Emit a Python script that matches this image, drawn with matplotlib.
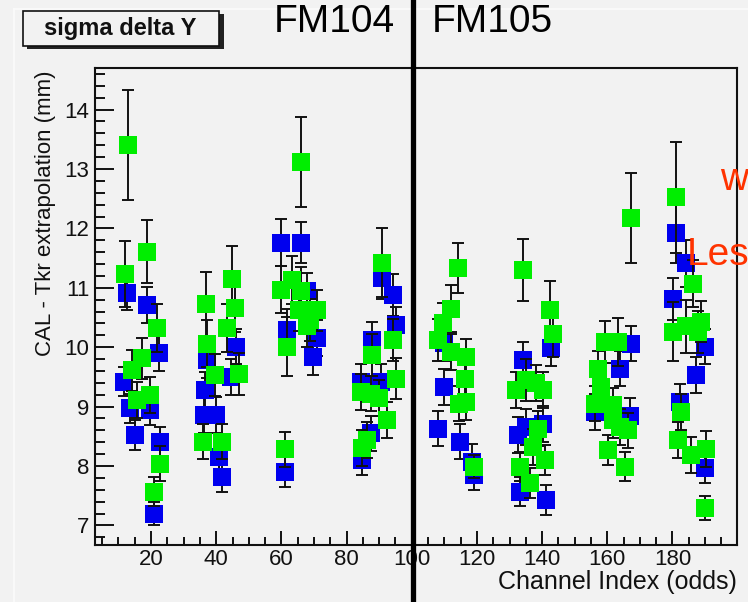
import matplotlib
matplotlib.use("Agg")
import matplotlib.pyplot as plt
from matplotlib.patches import Rectangle
from matplotlib.lines import Line2D
from matplotlib.ticker import MultipleLocator, FixedLocator

plt.rcParams["font.family"] = ["Liberation Sans", "DejaVu Sans"]

BG = "#f2f2f2"
BLUE = "#0000ee"
GREEN = "#00ee00"

# sigma of CAL - Tkr delta Y per channel, FM104 (x < 100) and FM105 (x > 100)
blue_x = [12.6, 18.8, 22.3, 11.6, 13.6, 19.8, 15.0, 22.8, 20.8,
          37.3, 36.7, 36.2, 39.8, 40.8, 41.8, 46.1, 44.4,
          60.0, 65.9, 61.8, 71.0, 69.8, 67.9, 61.0,
          91.0, 94.1, 95.1, 87.9, 84.3, 90.5, 84.8, 87.4,
          110.0, 110.0, 108.0, 114.9, 118.5, 119.0,
          142.8, 134.1, 132.6, 135.2, 140.3, 133.1, 141.3,
          167.4, 163.8, 156.1, 167.0,
          181.2, 184.3, 180.1, 189.9, 187.3, 182.2, 189.9]
blue_y = [10.92, 10.71, 9.90, 9.42, 8.97, 8.94, 8.52, 8.41, 7.20,
          9.78, 9.28, 8.86, 8.86, 8.15, 7.82, 10.01, 9.50,
          11.76, 11.76, 10.29, 10.15, 9.84, 10.95, 7.90,
          11.16, 10.88, 10.37, 10.12, 9.42, 9.42, 8.10, 8.55,
          10.07, 9.33, 8.63, 8.41, 8.07, 7.85,
          9.98, 9.78, 8.52, 8.66, 8.71, 7.57, 7.43,
          10.06, 9.64, 8.91, 8.85,
          11.92, 11.41, 10.81, 10.01, 9.53, 9.08, 7.96]
blue_err = [0.30, 0.30, 0.30, 0.25, 0.25, 0.25, 0.25, 0.25, 0.20,
            0.30, 0.30, 0.30, 0.30, 0.25, 0.25, 0.30, 0.30,
            0.40, 0.35, 0.35, 0.30, 0.30, 0.30, 0.25,
            0.35, 0.35, 0.30, 0.30, 0.30, 0.30, 0.25, 0.30,
            0.30, 0.30, 0.30, 0.30, 0.30, 0.25,
            0.30, 0.30, 0.30, 0.30, 0.30, 0.25, 0.25,
            0.30, 0.30, 0.30, 0.30,
            0.50, 0.40, 0.35, 0.30, 0.30, 0.30, 0.25]

green_x = [12.8, 11.9, 18.8, 21.8, 14.2, 17.3, 15.7, 19.8, 22.8, 20.8,
           37.0, 37.3, 39.5, 35.9, 41.8, 44.9, 45.8, 43.4, 46.9,
           65.9, 60.0, 63.4, 65.9, 61.8, 65.4, 68.9, 71.0, 67.9, 61.0,
           91.0, 94.1, 87.9, 95.1, 84.3, 87.4, 90.0, 92.5, 86.4, 84.8,
           114.1, 112.1, 109.5, 108.0, 112.1, 116.7, 116.2, 116.7, 114.6, 119.0,
           134.1, 142.3, 143.3, 132.1, 135.2, 138.2, 140.3, 138.7, 137.2, 140.8, 133.1, 136.2,
           167.4, 159.2, 163.3, 157.2, 158.2, 156.1, 161.8, 161.8, 166.4, 163.8, 160.2, 165.3,
           181.2, 186.3, 180.1, 184.3, 188.9, 187.8, 182.7, 181.7, 185.8, 190.4, 189.9]
green_y = [13.40, 11.23, 11.61, 10.32, 9.61, 9.81, 9.11, 9.19, 8.04, 7.57,
           10.73, 10.06, 9.53, 8.41, 8.41, 11.15, 10.66, 10.32, 9.55,
           13.12, 10.97, 11.13, 10.95, 10.01, 10.62, 10.46, 10.62, 10.35, 8.28,
           11.42, 10.12, 9.87, 9.47, 9.25, 9.22, 9.14, 8.77, 8.44, 8.30,
           11.33, 10.65, 10.40, 10.12, 9.92, 9.84, 9.47, 9.08, 9.05, 7.99,
           11.30, 10.62, 10.23, 9.28, 9.45, 9.40, 9.28, 8.63, 8.32, 8.10, 7.99, 7.71,
           12.17, 10.09, 10.09, 9.64, 9.33, 9.05, 9.02, 8.77, 8.60, 8.66, 8.27, 7.99,
           12.52, 11.07, 10.26, 10.35, 10.43, 10.26, 8.91, 8.44, 8.18, 8.29, 7.29]
green_err = [0.93, 0.56, 0.53, 0.40, 0.35, 0.35, 0.30, 0.30, 0.30, 0.25,
             0.54, 0.40, 0.35, 0.30, 0.30, 0.55, 0.40, 0.40, 0.35,
             0.76, 0.40, 0.40, 0.40, 0.50, 0.35, 0.35, 0.35, 0.35, 0.30,
             0.58, 0.35, 0.35, 0.35, 0.30, 0.30, 0.30, 0.30, 0.30, 0.30,
             0.42, 0.40, 0.35, 0.35, 0.30, 0.30, 0.30, 0.30, 0.30, 0.20,
             0.52, 0.50, 0.40, 0.30, 0.35, 0.30, 0.30, 0.30, 0.30, 0.25, 0.25, 0.25,
             0.76, 0.35, 0.40, 0.30, 0.30, 0.30, 0.30, 0.30, 0.30, 0.30, 0.25, 0.25,
             0.93, 0.40, 0.50, 0.45, 0.35, 0.35, 0.30, 0.30, 0.30, 0.30, 0.20]

x_ticks = [20, 40, 60, 80, 100, 120, 140, 160, 180]

W, H = 748, 602
fig = plt.figure(figsize=(W / 100, H / 100), dpi=100, facecolor=BG)
ax = fig.add_axes([95 / W, 1 - 545 / H, (737 - 95) / W, (545 - 68) / H], facecolor=BG)

for xs, ys, es, col, z in [(blue_x, blue_y, blue_err, BLUE, 2),
                           (green_x, green_y, green_err, GREEN, 4)]:
    ax.errorbar(xs, ys, yerr=es, fmt="none", ecolor="#111111", elinewidth=1.4,
                capsize=4, capthick=1.4, zorder=z)
    ax.plot(xs, ys, "s", color=col, markersize=13.5, markeredgewidth=0, zorder=z + 1)

ax.set_xlim(2.8, 199.8)
ax.set_ylim(6.67, 14.7)
ax.xaxis.set_major_locator(FixedLocator(x_ticks))
ax.xaxis.set_minor_locator(MultipleLocator(5))
ax.yaxis.set_major_locator(MultipleLocator(1))
ax.yaxis.set_minor_locator(MultipleLocator(0.2))
ax.tick_params(axis="both", which="both", direction="in", top=False, right=False,
               colors="#111111", labelsize=16, width=1.4)
ax.tick_params(axis="y", which="major", length=14, pad=4)
ax.tick_params(axis="y", which="minor", length=7)
ax.tick_params(axis="x", which="major", length=10, pad=3)
ax.tick_params(axis="x", which="minor", length=6)
for sp in ax.spines.values():
    sp.set_linewidth(1.5)
    sp.set_color("#111111")

fig.text(46 / W, 1 - 70 / H, "CAL - Tkr extrapolation (mm)", rotation=90,
         ha="center", va="top", fontsize=16, color="#111111")
fig.text(737 / W, 1 - 582 / H, "Channel Index (odds)", ha="right", va="center",
         fontsize=18, color="#111111")

# faint canvas border
fig.lines.append(Line2D([13.5 / W, 13.5 / W], [0, 1 - 9 / H], transform=fig.transFigure,
                        color="#fbfbfb", linewidth=1.2, zorder=0))
fig.lines.append(Line2D([13.5 / W, 1], [1 - 9 / H, 1 - 9 / H], transform=fig.transFigure,
                        color="#fbfbfb", linewidth=1.2, zorder=0))

# title box with drop shadow
fig.patches.append(Rectangle((27 / W, 1 - 49 / H), 197 / W, 35 / H, transform=fig.transFigure,
                             facecolor="#222222", edgecolor="none", zorder=1))
fig.patches.append(Rectangle((22.5 / W, 1 - 46 / H), 196.5 / W, 35 / H, transform=fig.transFigure,
                             facecolor=BG, edgecolor="#111111", linewidth=1.2, zorder=2))
fig.text(120.5 / W, 1 - 29 / H, "sigma delta Y", ha="center", va="center",
         fontsize=17, fontweight="bold", color="#111111", zorder=3)

fig.text(334 / W, 1 - 22 / H, "FM104", ha="center", va="center", fontsize=28)
fig.text(492 / W, 1 - 22 / H, "FM105", ha="center", va="center", fontsize=28)
fig.text(720 / W, 1 - 180 / H, "w", ha="left", va="center", fontsize=28, color="#ff3300")
fig.text(687 / W, 1 - 255 / H, "Les", ha="left", va="center", fontsize=28, color="#ff3300")

# divider between the two modules
fig.lines.append(Line2D([412.5 / W, 412.5 / W], [0, 1], transform=fig.transFigure,
                        color="black", linewidth=3.8, zorder=10))

fig.savefig("out.png", dpi=100, facecolor=BG)
